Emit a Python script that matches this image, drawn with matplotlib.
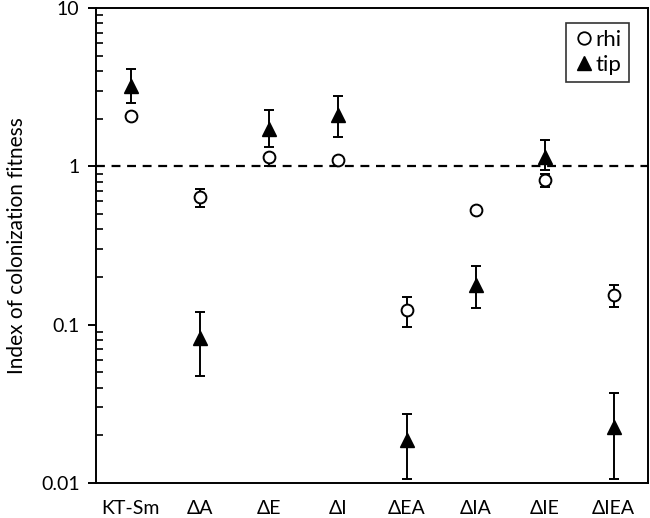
import matplotlib
matplotlib.use("Agg")
import matplotlib.pyplot as plt
from matplotlib.ticker import LogLocator, FixedLocator, NullFormatter
from matplotlib.lines import Line2D
import numpy as np

plt.rcParams['font.family'] = ['Lato', 'DejaVu Sans']

# data
strains = ["KT-Sm", "ΔA", "ΔE", "ΔI", "ΔEA", "ΔIA", "ΔIE", "ΔIEA"]
rhi = [2.09, 0.64, 1.15, 1.09, 0.123, 0.53, 0.82, 0.153]
rhi_lo = [2.09, 0.555, 1.0, 1.09, 0.096, 0.53, 0.735, 0.129]
rhi_hi = [2.09, 0.72, 1.15, 1.09, 0.149, 0.53, 0.90, 0.177]
tip = [3.22, 0.082, 1.72, 2.11, 0.0187, 0.178, 1.15, 0.0227]
tip_lo = [2.51, 0.0475, 1.32, 1.54, 0.0106, 0.128, 0.95, 0.0106]
tip_hi = [4.13, 0.12, 2.28, 2.79, 0.0273, 0.233, 1.47, 0.037]

x = np.arange(1, len(strains) + 1)
rhi = np.array(rhi)
tip = np.array(tip)

fig = plt.figure(figsize=(6.5, 5.18), dpi=100)
ax = fig.add_axes([0.148, 0.0676, 0.849, 0.917])

ax.axhline(1, color="black", linestyle=(0, (4, 3)), linewidth=1.6, zorder=1)

ax.errorbar(x, tip, yerr=[tip - np.array(tip_lo), np.array(tip_hi) - tip],
            fmt="^", color="black", markersize=10, ecolor="black",
            elinewidth=1.4, capsize=3.5, capthick=1.4, zorder=3)
ax.errorbar(x, rhi, yerr=[rhi - np.array(rhi_lo), np.array(rhi_hi) - rhi],
            fmt="o", mfc="white", mec="black", mew=1.4, markersize=8.5,
            ecolor="black", elinewidth=1.4, capsize=3.5, capthick=1.4,
            zorder=4)

ax.set_yscale("log")
ax.set_ylim(0.01, 10)
ax.set_xlim(0.5, 8.5)
ax.set_xticks(x)
ax.set_xticklabels(strains, fontsize=14)
ax.tick_params(axis="x", length=0, pad=12)
ax.yaxis.set_major_locator(FixedLocator([0.01, 0.1, 1, 10]))
ax.set_yticklabels(["0.01", "0.1", "1", "10"])
ax.yaxis.set_minor_locator(LogLocator(base=10, subs=np.arange(2, 10)))
ax.yaxis.set_minor_formatter(NullFormatter())
ax.tick_params(axis="y", which="major", direction="out", length=6, width=1.4,
               labelsize=14, pad=6)
ax.tick_params(axis="y", which="minor", direction="in", length=5, width=1.2)
ax.set_ylabel("Index of colonization fitness", fontsize=15, labelpad=10)

for s in ax.spines.values():
    s.set_linewidth(1.4)

handles = [Line2D([], [], marker="o", ls="none", mfc="white", mec="black",
                  mew=1.3, markersize=9),
           Line2D([], [], marker="^", ls="none", color="black", markersize=10)]
leg = ax.legend(handles, ["rhi", "tip"], loc="upper right", fontsize=16,
                frameon=True, fancybox=False, edgecolor="black",
                handletextpad=0.05, handlelength=1.0, borderpad=0.3,
                labelspacing=0.25, bbox_to_anchor=(0.985, 0.992))
leg.get_frame().set_linewidth(1.2)

fig.savefig("out.png", dpi=100)
